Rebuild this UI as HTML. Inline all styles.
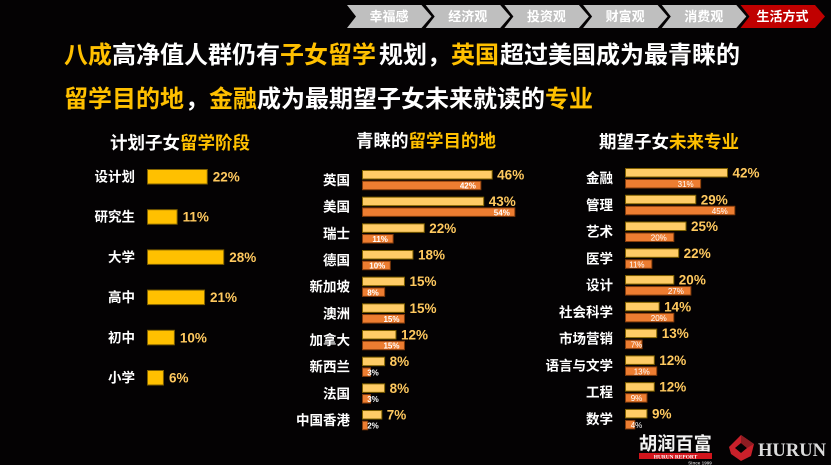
<!DOCTYPE html>
<html lang="zh">
<head>
<meta charset="utf-8">
<title>留学规划</title>
<style>
html,body{margin:0;padding:0;background:#040203;}
body{width:831px;height:465px;overflow:hidden;}
svg{display:block;}
text{font-family:"Liberation Sans","Noto Sans CJK SC",sans-serif;font-weight:700;}
</style>
</head>
<body>
<svg id="root" width="831" height="465" viewBox="0 0 831 465" xmlns="http://www.w3.org/2000/svg">
  <rect width="831" height="465" fill="#040203"/>
  <g id="nav"></g>

  <g font-size="24">
    <text x="64" y="63" fill="#FFC000">八成</text>
    <text x="112" y="63" fill="#fff">高净值人群仍有</text>
    <text x="280" y="63" fill="#FFC000">子女留学</text>
    <text x="379" y="63" fill="#fff">规划，</text>
    <text x="451" y="63" fill="#FFC000">英国</text>
    <text x="500" y="63" fill="#fff">超过美国成为最青睐的</text>
    <text x="64" y="107" fill="#FFC000">留学目的地</text>
    <text x="185" y="107" fill="#fff">，</text>
    <text x="209" y="107" fill="#FFC000">金融</text>
    <text x="257" y="107" fill="#fff">成为最期望子女未来就读的</text>
    <text x="545" y="107" fill="#FFC000">专业</text>
  </g>

  <g font-size="17.5">
    <text x="110" y="149"><tspan fill="#fff">计划子女</tspan><tspan fill="#FFC000">留学阶段</tspan></text>
    <text x="356" y="147"><tspan fill="#fff">青睐的</tspan><tspan fill="#FFC000">留学目的地</tspan></text>
    <text x="599" y="148"><tspan fill="#fff">期望子女</tspan><tspan fill="#FFC000">未来专业</tspan></text>
  </g>

  <g id="stage-chart"></g>
  <g id="dest-chart"></g>
  <g id="major-chart"></g>

  <g>
    <text x="639" y="450" font-size="18.2" fill="#f2f2f2">胡润百富</text>
    <rect x="639" y="453" width="73" height="6" fill="#d2151c"/>
    <text x="675.5" y="458.4" font-size="5.4" fill="#fff" text-anchor="middle" style="font-family:'Liberation Serif',serif">HURUN REPORT</text>
    <text x="700" y="464.5" font-size="4.6" fill="#bbb" text-anchor="middle">Since 1999</text>
  </g>
  <g>
    <polygon points="741,435 754,444 751,456 741,461 731,454 729,447" fill="#c9202a"/>
    <polygon points="741,443 747,448 741,453 735,448" fill="#040203"/>
    <polygon points="741,435 754,444 747,448 741,443" fill="#8e1c22"/>
    <text x="758" y="456" font-size="19" fill="#dcdcdc" textLength="68" lengthAdjust="spacingAndGlyphs" style="font-family:'Liberation Serif',serif">HURUN</text>
  </g>
</svg>

<script>
// Navigation
var navItems = ['幸福感', '经济观', '投资观', '财富观', '消费观', '生活方式'];
var activeNav = '生活方式';

// Chart 1: planned study stage
var stageCategories = ['设计划', '研究生', '大学', '高中', '初中', '小学'];
var stageValues = [22, 11, 28, 21, 10, 6];

// Chart 2: preferred destination
var destCategories = ['英国', '美国', '瑞士', '德国', '新加坡', '澳洲', '加拿大', '新西兰', '法国', '中国香港'];
var destCurrent = [46, 43, 22, 18, 15, 15, 12, 8, 8, 7];
var destPrevious = [42, 54, 11, 10, 8, 15, 15, 3, 3, 2];

// Chart 3: expected major
var majorCategories = ['金融', '管理', '艺术', '医学', '设计', '社会科学', '市场营销', '语言与文学', '工程', '数学'];
var majorCurrent = [42, 29, 25, 22, 20, 14, 13, 12, 12, 9];
var majorPrevious = [31, 45, 20, 11, 27, 20, 7, 13, 9, 4];

var NS = 'http://www.w3.org/2000/svg';

function make(parent, tag, attrs, content) {
  var el = document.createElementNS(NS, tag);
  for (var k in attrs) el.setAttribute(k, attrs[k]);
  if (content !== undefined) el.textContent = content;
  parent.appendChild(el);
  return el;
}

function linear(x0, pxPerUnit) {
  return function (v) { return x0 + v * pxPerUnit; };
}

function band(y0, step) {
  return function (i) { return y0 + i * step; };
}

// Navigation chevrons
(function () {
  var g = document.getElementById('nav');
  navItems.forEach(function (name, i) {
    var x = 347 + i * 78.7;
    var active = name === activeNav;
    var poly = make(g, 'polygon', {
      points: [x, 5, x + 74.5, 5, x + 84.5, 16.5, x + 74.5, 28, x, 28, x + 9, 16.5].join(' '),
      fill: active ? '#C00000' : '#BFBFBF'
    });
    
    
    var label = make(g, 'text', {
      x: x + 42, y: 21, 'text-anchor': 'middle', 'font-size': 13,
      fill: '#fff'
    }, name);
    
    
  });
})();

// Chart 1
(function () {
  var g = document.getElementById('stage-chart');
  var xScale = linear(147, 2.74);
  var yScale = band(169, 40.2);
  stageCategories.forEach(function (cat, i) {
    var y = yScale(i);
    var end = xScale(stageValues[i]);
    var label = make(g, 'text', {x: 135, y: y + 12.5, 'text-anchor': 'end', 'font-size': 13.5, fill: '#fff'}, cat);
    
    
    var bar = make(g, 'rect', {x: 147.5, y: y + 0.5, width: end - 147.5, height: 14.5, fill: '#FFC000', stroke: '#7f6000', 'stroke-width': 1});
    
    
    var val = make(g, 'text', {x: end + 5.5, y: y + 12.5, 'font-size': 13.5, fill: '#FFC95F'}, stageValues[i] + '%');
    
    
  });
})();

function pairedChart(id, prefix, cats, cur, prev, opts) {
  var g = document.getElementById(id);
  var xScale = linear(opts.x0, opts.scale);
  var yScale = band(opts.y0, opts.step);
  cats.forEach(function (cat, i) {
    var y = yScale(i);
    var endA = xScale(cur[i]);
    var endB = xScale(prev[i]);
    var label = make(g, 'text', {x: opts.labelX, y: y + 15, 'text-anchor': 'end', 'font-size': 13.5, fill: '#fff'}, cat);
    
    
    var barA = make(g, 'rect', {x: opts.x0 + 0.5, y: y + 0.5, width: endA - opts.x0 - 0.5, height: 8.5, fill: '#FFCC66', stroke: '#7f6000', 'stroke-width': 1});
    
    
    var valA = make(g, 'text', {x: endA + 5, y: y + 9.5, 'font-size': 13.5, fill: '#FFC95F'}, cur[i] + '%');
    
    
    var barB = make(g, 'rect', {x: opts.x0 + 0.5, y: y + opts.gap + 0.5, width: endB - opts.x0 - 0.5, height: 8.5, fill: '#ED7D31', stroke: '#843c0c', 'stroke-width': 1});
    
    
    var valB = make(g, 'text', {x: Math.max(endB - opts.labelBack, opts.labelMin), y: y + opts.gap + 8, 'text-anchor': 'middle', 'font-size': 8, fill: '#fff', style: 'font-weight:' + opts.smallWeight}, prev[i] + '%');
    
    
  });
}

pairedChart('dest-chart', 'destination', destCategories, destCurrent, destPrevious, {
  x0: 362, scale: 2.83, y0: 170, step: 26.67, gap: 10.7, labelX: 350, labelBack: 13, labelMin: 373, smallWeight: 700
});
pairedChart('major-chart', 'major', majorCategories, majorCurrent, majorPrevious, {
  x0: 625, scale: 2.44, y0: 168, step: 26.77, gap: 11, labelX: 613, labelBack: 15, labelMin: 636.5, smallWeight: 400
});
</script>
</body>
</html>
